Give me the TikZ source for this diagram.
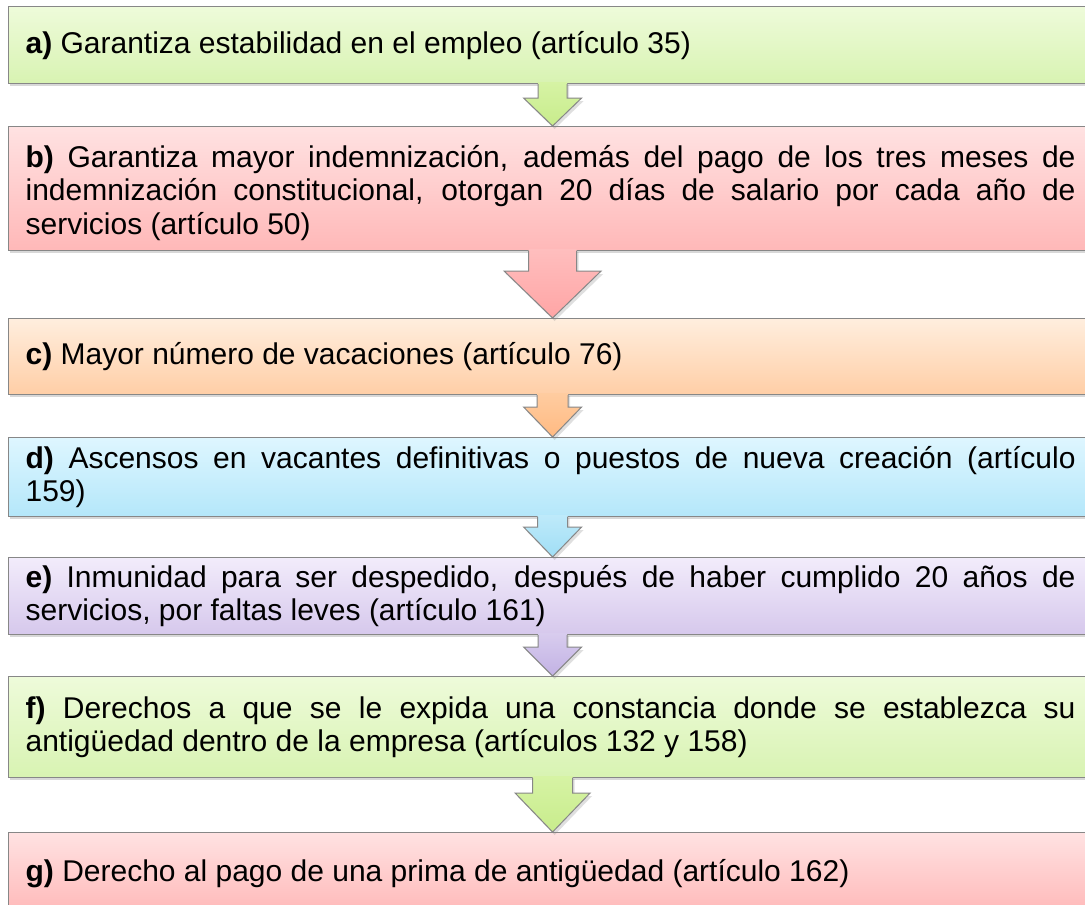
\documentclass[tikz,border=0pt]{standalone}
\usepackage{fontspec}
\setmainfont{Liberation Sans}
\usetikzlibrary{calc,shadows}
\definecolor{boxline}{RGB}{135,135,135}
\definecolor{greenT}{RGB}{238,251,218}
\definecolor{greenB}{RGB}{216,243,178}
\definecolor{pinkT}{RGB}{255,226,226}
\definecolor{pinkB}{RGB}{255,184,184}
\definecolor{orangeT}{RGB}{255,238,222}
\definecolor{orangeB}{RGB}{255,206,166}
\definecolor{blueT}{RGB}{222,246,255}
\definecolor{blueB}{RGB}{180,231,250}
\definecolor{purpleT}{RGB}{242,236,251}
\definecolor{purpleB}{RGB}{214,200,236}
\definecolor{greenA}{RGB}{214,243,164}
\definecolor{greenA2}{RGB}{200,236,140}
\definecolor{pinkA}{RGB}{255,190,190}
\definecolor{pinkA2}{RGB}{255,165,165}
\definecolor{orangeA}{RGB}{255,204,160}
\definecolor{orangeA2}{RGB}{255,186,130}
\definecolor{blueA}{RGB}{190,234,250}
\definecolor{blueA2}{RGB}{160,222,245}
\definecolor{purpleA}{RGB}{216,204,238}
\definecolor{purpleA2}{RGB}{194,178,228}
\hyphenpenalty=10000
\tikzset{
  infobox/.style={draw=boxline, line width=1.2pt, anchor=north west,
    text width=1050pt, align=justify, inner xsep=17pt, inner ysep=0pt,
    font=\fontsize{30}{33.5}\selectfont,
    drop shadow={shadow xshift=1.5pt, shadow yshift=-2.5pt, opacity=0.3}},
  arrowfill/.style={drop shadow={shadow xshift=2pt, shadow yshift=-3pt, opacity=0.25}},
  arrowline/.style={draw=boxline, line width=1pt, line join=miter}
}
\newcommand\flowarrow[7]{%
  \path[arrowfill, top color=#6, bottom color=#7]
    ($(#1.south)+(2-#3,-2)$) -- ($(#2.north)+(2-#3,-#5)$) -- ($(#2.north)+(2-#4,-#5)$)
    -- ($(#2.north)+(2,0)$) -- ($(#2.north)+(2+#4,-#5)$) -- ($(#2.north)+(2+#3,-#5)$)
    -- ($(#1.south)+(2+#3,-2)$) -- cycle;
  \draw[arrowline]
    ($(#1.south)+(2-#3,0)$) -- ($(#2.north)+(2-#3,-#5)$) -- ($(#2.north)+(2-#4,-#5)$)
    -- ($(#2.north)+(2,0)$) -- ($(#2.north)+(2+#4,-#5)$) -- ($(#2.north)+(2+#3,-#5)$)
    -- ($(#1.south)+(2+#3,0)$);
}
\begin{document}
\begin{tikzpicture}[x=1pt,y=-1pt]
\useasboundingbox (0,0) rectangle (1085,905);
\clip (0,0) rectangle (1085,905);
\fill[white] (0,0) rectangle (1085,905);

\node[infobox, minimum height=77pt, top color=greenT, bottom color=greenB] (a) at (8,6)
  {\textbf{a)} Garantiza estabilidad en el empleo (artículo 35)};
\node[infobox, minimum height=124pt, text height=31pt, top color=pinkT, bottom color=pinkB] (b) at (8,126)
  {\textbf{b)} Garantiza mayor indemnización, además del pago de los tres meses de\linebreak
   indemnización constitucional, otorgan 20 días de salario por cada año de\linebreak
   servicios (artículo 50)};
\node[infobox, minimum height=76pt, top color=orangeT, bottom color=orangeB] (c) at (8,318)
  {\textbf{c)} Mayor número de vacaciones (artículo 76)};
\node[infobox, minimum height=79pt, top color=blueT, bottom color=blueB] (d) at (8,437)
  {\textbf{d)} Ascensos en vacantes definitivas o puestos de nueva creación (artículo\linebreak 159)};
\node[infobox, minimum height=77pt, top color=purpleT, bottom color=purpleB] (e) at (8,557)
  {\textbf{e)} Inmunidad para ser despedido, después de haber cumplido 20 años de\linebreak
   servicios, por faltas leves (artículo 161)};
\node[infobox, minimum height=101pt, top color=greenT, bottom color=greenB] (f) at (8,676)
  {\textbf{f)} Derechos a que se le expida una constancia donde se establezca su\linebreak
   antigüedad dentro de la empresa (artículos 132 y 158)};
\node[infobox, minimum height=82pt, top color=pinkT, bottom color=pinkB] (g) at (8,832)
  {\textbf{g)} Derecho al pago de una prima de antigüedad (artículo 162)};

\flowarrow{a}{b}{14.5}{29}{28}{greenA}{greenA2}
\flowarrow{b}{c}{24}{48.5}{47}{pinkA}{pinkA2}
\flowarrow{c}{d}{15.5}{29}{30}{orangeA}{orangeA2}
\flowarrow{d}{e}{15}{29}{30}{blueA}{blueA2}
\flowarrow{e}{f}{14.5}{29}{29}{purpleA}{purpleA2}
\flowarrow{f}{g}{20}{37.5}{39}{greenA}{greenA2}
\end{tikzpicture}
\end{document}
